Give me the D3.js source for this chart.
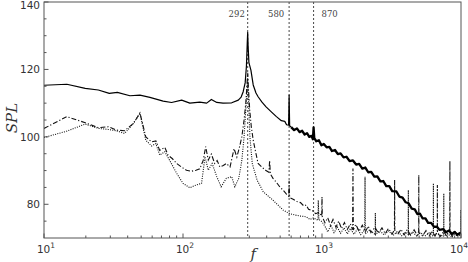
<!DOCTYPE html>
<html>
<head>
<meta charset="utf-8">
<script src="https://cdn.jsdelivr.net/npm/d3@7"></script>
<style>
  body { margin: 0; background: #fff; }
  svg { display: block; }
</style>
</head>
<body>
<div id="chart"></div>
<script>
// spectra: [frequency, SPL]
const solid = [
  [10,115.3],[14.6,115.6],[19.8,114.4],[24.6,113.9],[29.5,112.9],[33.7,113.2],[41.5,112.2],[49,112.4],
  [57.8,111.7],[72,110.6],[82.7,110.2],[97.8,110.9],[112,110],[132,110.3],[148,110],[160,111.1],
  [175,110.2],[194,110],[224,110.1],[250,110.9],[262,111.8],[271,113.4],[280,116],[286,121],[290,128],
  [292,131],[294,127],[298,122],[308,119.8],[320,115.4],[335,113],[347,111.9],[370,110.3],[396,108.9],
  [430,107.5],[470,106],[510,104.8],[540,104.6],[556,103.6],[575,103.5],[580,112.4],[585,103.3],
  [600,102.9],[630,102],[660,102.5],[690,101.4],[720,101.8],[750,100.7],[780,101.1],[810,100],
  [840,100.3],[860,99.3],[870,102.8],[880,99.6],[910,98.7],[950,99],[990,97.5],[1030,97.9],
  [1080,96.9],[1130,97],[1180,95.8],[1240,96.1],[1300,94.9],[1360,95.1],[1430,93.9],[1500,94.1],
  [1580,92.8],[1670,93],[1760,91.8],[1850,92],[1950,90.6],[2050,90.9],[2150,89.5],[2260,89.6],
  [2380,88.2],[2500,88.3],[2630,86.8],[2760,86.9],[2900,85.4],[3050,85.4],[3200,83.9],[3430,83.8],
  [3600,82.3],[3800,82],[4000,80.6],[4200,80.3],[4420,78.7],[4650,78.5],[4850,77.1],[5070,77.2],
  [5300,75.8],[5550,75.8],[5800,74.5],[6100,74.5],[6400,73.3],[6700,73.4],[7000,72.4],[7470,72.6],
  [7800,71.7],[8200,72.2],[8600,71.2],[9000,71.8],[9400,71],[10000,71.6]
];

const dashDot = [
  [10,102.5],[14.6,106],[19.8,104.2],[24.6,102.7],[29,103],[33.3,102],[38,101.8],[44,104],[49,107.1],
  [54,100],[59.5,98.5],[63.8,98.8],[68,96],[74,96.9],[78,94.6],[84,93.5],[90,92.1],[98,91],[106,90.1],
  [115,89.8],[124,90.1],[132,90.5],[140,93.1],[145.6,97.1],[152,93.1],[160,94.9],[169,92.1],[176,93],
  [184,91.1],[195,91.5],[205,92.1],[218,91.1],[233,96.5],[244,94],[255,97],[265,100],[275,105],
  [283,110],[288,115],[292,119],[296,114],[302,108],[310,103],[320,99],[335,95],[347,92.1],[370,91],
  [395,90],[415,89.5],[420,93],[425,89],[444,87.7],[470,86.5],[500,85],[525,84.2],[555,83],[575,82.4],
  [580,87],[585,82],[620,81.5],[660,80.8],[700,80.5],[740,79.5],[770,79.8],[800,78.5],[850,78.2],
  [900,77.2],[950,77.6],[995,76.5],[1000,82.2],[1005,76.3],[1050,74.5],[1100,76],[1150,73.8],
  [1200,75.5],[1260,73.2],[1320,75],[1380,72.8],[1450,74.6],[1520,72.5],[1600,74.2],[1660,72.5],
  [1670,90.6],[1680,72.4],[1750,74],[1850,72],[1950,73.8],[2050,71.8],[2150,73.5],[2250,71.6],
  [2400,73.2],[2550,71.4],[2700,73],[2850,71.3],[3000,72.8],[3200,71.2],[3320,72.5],[3330,87.2],
  [3340,72],[3500,71],[3700,72.6],[3900,70.9],[4100,72.5],[4350,70.8],[4600,72.4],[4850,70.8],
  [4960,72],[4970,88.7],[4980,71.5],[5300,70.7],[5600,72.2],[5900,70.6],[6200,72.1],[6500,70.6],
  [6750,72],[6760,85.7],[6770,71.5],[7100,70.5],[7500,72],[7900,70.5],[8300,72.5],[8320,92.9],
  [8340,71.5],[8700,70.4],[9100,71.8],[9500,70.4],[10000,71.6]
];

const dotted = [
  [10,99.8],[14.6,101.7],[19.8,103.8],[24.6,102.5],[29,102.2],[33.3,101.8],[38,101],[44,104],[49,107],
  [54,99],[59.5,97.3],[63.8,98],[68,94.6],[74,95.6],[80,93.1],[90,89.2],[100,86.2],[112,84.9],
  [124,85.7],[136,86.2],[144,94.1],[152,90.1],[162,92.1],[175,88.2],[188,85.2],[205,87.7],[224,88.2],
  [236,85.2],[252,87.7],[265,93],[275,100],[283,108],[288,113],[292,117],[296,111],[303,100],
  [315,92.1],[341,87.2],[378,83.7],[444,81.2],[525,78.3],[580,77.3],[640,76.8],[700,76.5],[770,76.3],
  [820,75.5],[870,76],[935,75.2],[940,81.2],[950,75.5],[1000,74.8],[1050,73.5],[1100,71.8],
  [1160,73.8],[1220,71.6],[1290,73.2],[1360,71.4],[1440,73],[1520,71.2],[1600,72.8],[1700,71.1],
  [1800,72.7],[1900,71],[2030,72.5],[2040,88.2],[2050,71.2],[2200,72.4],[2410,71],[2420,77.4],
  [2430,71],[2600,72.2],[2800,70.9],[3000,72.1],[3250,70.8],[3500,72],[3750,70.7],[4000,71.8],
  [4170,71],[4180,84.2],[4190,71],[4500,71.7],[4800,70.6],[5100,71.6],[5500,70.6],[5900,71.5],
  [6320,70.5],[6330,86.2],[6340,71],[6800,71.4],[7200,70.5],[7510,71.2],[7520,83.2],[7530,70.6],
  [8000,71.3],[8500,70.4],[9000,71.2],[9500,70.3],[9950,71],[9980,78.3],[10000,71]
];

const markers = [292, 580, 870];
const markerLabels = ['292', '580', '870'];
const yTicks = [80, 100, 120, 140];
const yMinor = [75, 85, 90, 95, 105, 110, 115, 125, 130, 135];
const xTicks = [10, 100, 1000, 10000];
const xExponents = ['1', '2', '3', '4'];

const width = 468, height = 262;
const margin = { left: 44, right: 7, top: 2, bottom: 24 };
const w = width - margin.left - margin.right;
const h = height - margin.top - margin.bottom;

const svg = d3.select('#chart').append('svg')
  .attr('width', width)
  .attr('height', height);

const g = svg.append('g')
  .attr('transform', 'translate(' + margin.left + ',' + margin.top + ')');

const x = d3.scaleLog().domain([10, 10000]).range([0, w]);
const y = d3.scaleLinear().domain([70, 140]).range([h, 0]);

g.append('clipPath').attr('id', 'clip')
  .append('rect').attr('width', w).attr('height', h);

const line = d3.line()
  .x(d => x(d[0]))
  .y(d => y(d[1]));

const plot = g.append('g').attr('clip-path', 'url(#clip)');

// vertical markers
plot.selectAll('line.marker')
  .data(markers)
  .enter().append('line')
    .attr('class', 'marker')
    .attr('x1', d => x(d)).attr('x2', d => x(d))
    .attr('y1', 0).attr('y2', h)
    .attr('stroke', '#333')
    .attr('stroke-width', 0.9)
    .attr('stroke-dasharray', '2,2');

// spectra
plot.append('path')
  .datum(dotted)
  .attr('d', line)
  .attr('fill', 'none')
  .attr('stroke', '#111')
  .attr('stroke-width', 1.1)
  .attr('stroke-dasharray', '1,1.3');

plot.append('path')
  .datum(dashDot)
  .attr('d', line)
  .attr('fill', 'none')
  .attr('stroke', '#111')
  .attr('stroke-width', 1.1)
  .attr('stroke-dasharray', '5,2,1.2,2');

// solid: thin below 600 Hz, broadband noise drawn as a thick band above
plot.append('path')
  .datum(solid.filter(d => d[0] <= 600))
  .attr('d', line)
  .attr('fill', 'none')
  .attr('stroke', '#000')
  .attr('stroke-width', 1.2)
  .attr('stroke-linejoin', 'round');

plot.append('path')
  .datum(solid.filter(d => d[0] >= 600))
  .attr('d', line)
  .attr('fill', 'none')
  .attr('stroke', '#000')
  .attr('stroke-width', 2.3)
  .attr('stroke-linejoin', 'round');

// marker labels
const labelDx = [-11, -13, 16];
g.selectAll('text.mlabel')
  .data(markers)
  .enter().append('text')
    .attr('class', 'mlabel')
    .attr('x', (d, i) => x(d) + labelDx[i])
    .attr('y', 15)
    .attr('text-anchor', 'middle')
    .attr('font-family', 'DejaVu Serif, serif')
    .attr('font-size', 8.5)
    .attr('fill', '#444')
    .text((d, i) => markerLabels[i]);

// frame
g.append('rect')
  .attr('width', w).attr('height', h)
  .attr('fill', 'none')
  .attr('stroke', '#555')
  .attr('stroke-width', 1);

// ticks, inside
const minorX = x.ticks().filter(t => xTicks.indexOf(t) < 0);
g.selectAll('line.xminor')
  .data(minorX)
  .enter().append('line')
    .attr('x1', d => x(d)).attr('x2', d => x(d))
    .attr('y1', h).attr('y2', h - 2.5)
    .attr('stroke', '#555');
g.selectAll('line.xmajor')
  .data(xTicks)
  .enter().append('line')
    .attr('x1', d => x(d)).attr('x2', d => x(d))
    .attr('y1', h).attr('y2', h - 4.5)
    .attr('stroke', '#555');
g.selectAll('line.yminor')
  .data(yMinor)
  .enter().append('line')
    .attr('x1', 0).attr('x2', 2.5)
    .attr('y1', d => y(d)).attr('y2', d => y(d))
    .attr('stroke', '#555');
g.selectAll('line.ymajor')
  .data(yTicks)
  .enter().append('line')
    .attr('x1', 0).attr('x2', 4.5)
    .attr('y1', d => y(d)).attr('y2', d => y(d))
    .attr('stroke', '#555');

// tick labels
g.selectAll('text.ylab')
  .data(yTicks)
  .enter().append('text')
    .attr('x', -4)
    .attr('y', d => Math.max(y(d) + 4, 7))
    .attr('text-anchor', 'end')
    .attr('font-family', 'DejaVu Sans, sans-serif')
    .attr('font-size', 10.5)
    .attr('fill', '#333')
    .text(d => d);

const xl = g.selectAll('text.xlab')
  .data(xTicks)
  .enter().append('text')
    .attr('x', (d, i) => x(d) + (i === xTicks.length - 1 ? -2 : 2))
    .attr('y', h + 15)
    .attr('text-anchor', 'middle')
    .attr('font-family', 'DejaVu Sans, sans-serif')
    .attr('font-size', 10.5)
    .attr('fill', '#333');
xl.append('tspan').text('10');
xl.append('tspan')
  .attr('dy', -5)
  .attr('font-size', 7.5)
  .text((d, i) => xExponents[i]);

// axis titles
svg.append('text')
  .attr('transform', 'translate(17,118) rotate(-90)')
  .attr('text-anchor', 'middle')
  .attr('font-family', 'DejaVu Serif, serif')
  .attr('font-style', 'italic')
  .attr('font-size', 15)
  .attr('fill', '#333')
  .text('SPL');

svg.append('text')
  .attr('x', margin.left + x(320))
  .attr('y', 259)
  .attr('text-anchor', 'middle')
  .attr('font-family', 'DejaVu Serif, serif')
  .attr('font-style', 'italic')
  .attr('font-size', 15)
  .attr('fill', '#333')
  .text('f');
</script>
</body>
</html>
